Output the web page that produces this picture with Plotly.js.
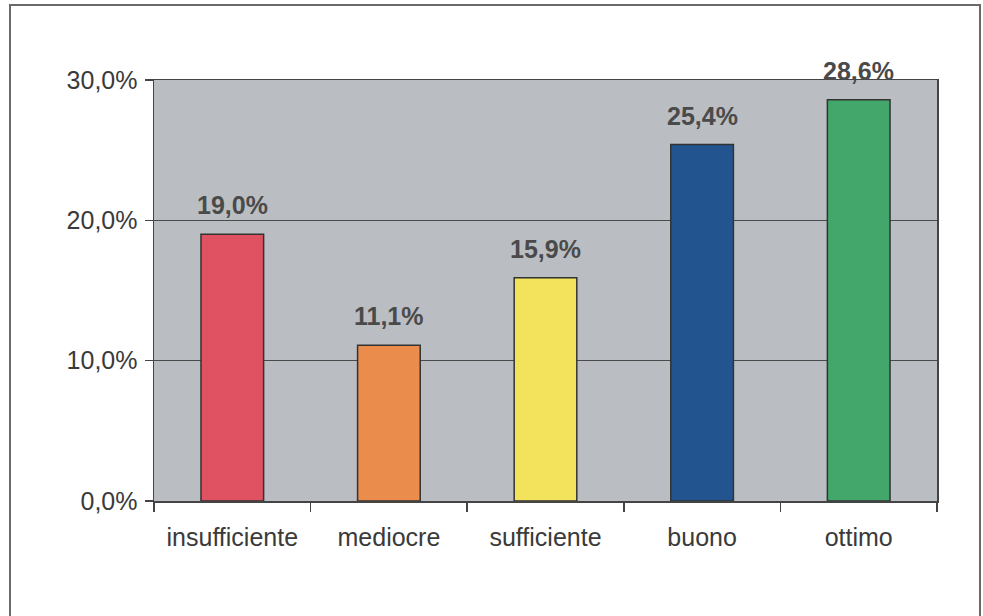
<!DOCTYPE html>
<html>
<head>
<meta charset="utf-8">
<script src="https://cdn.plot.ly/plotly-3.0.1.min.js"></script>
<style>
  html, body { margin: 0; padding: 0; background: #fff; overflow: hidden; }
  #chart { width: 983px; height: 616px; }
  #frame { position: absolute; left: 9px; top: 4px; width: 968px; height: 700px;
           border: 2px solid #6a6a6a; border-bottom: none; pointer-events: none; }
</style>
</head>
<body>
<div id="chart"></div>
<div id="frame"></div>
<script>
const categories = ["insufficiente", "mediocre", "sufficiente", "buono", "ottimo"];
const values = [19.0, 11.1, 15.9, 25.4, 28.6];
const barColors = ["#e05262", "#e98c4c", "#f2e25c", "#22548f", "#43a66a"];
const yTicks = [0, 10, 20, 30];

const fmt = v => v.toFixed(1).replace('.', ',') + '%';
const fontFam = '"Liberation Sans", Arial, sans-serif';

const trace = {
  type: 'bar',
  x: categories,
  y: values,
  marker: { color: barColors, line: { color: '#333', width: 1.5 } },
  hoverinfo: 'skip'
};

const annotations = categories.map((c, i) => ({
  x: c, y: values[i], xref: 'x', yref: 'y',
  text: fmt(values[i]), showarrow: false,
  yanchor: 'bottom', yshift: 13,
  font: { family: fontFam, size: 25, color: '#4a4a4a', weight: 'bold' }
}));

const layout = {
  width: 983, height: 616,
  margin: { l: 154, r: 46, t: 80, b: 115 },
  paper_bgcolor: '#ffffff',
  plot_bgcolor: '#babec2',
  bargap: 0.6,
  showlegend: false,
  font: { family: fontFam, size: 25, color: '#3a3a3a' },
  xaxis: {
    type: 'category',
    tickson: 'boundaries',
    ticks: 'outside', ticklen: 9, tickwidth: 1.5, tickcolor: '#444',
    showline: true, linecolor: '#444', linewidth: 1.5, mirror: true,
    showgrid: false,
    ticklabelstandoff: 13,
    tickfont: { family: fontFam, size: 25, color: '#3a3a3a' }
  },
  yaxis: {
    range: [0, 30],
    tickmode: 'array',
    tickvals: yTicks,
    ticktext: yTicks.map(fmt),
    ticks: 'outside', ticklen: 8, tickwidth: 1.5, tickcolor: '#444',
    showline: true, linecolor: '#444', linewidth: 1.5, mirror: true,
    showgrid: true, gridcolor: '#4a4a4a', gridwidth: 1,
    zeroline: false,
    ticklabelstandoff: 2,
    tickfont: { family: fontFam, size: 25, color: '#3a3a3a' }
  },
  annotations: annotations
};

Plotly.newPlot('chart', [trace], layout, { staticPlot: true, displayModeBar: false });
</script>
</body>
</html>
